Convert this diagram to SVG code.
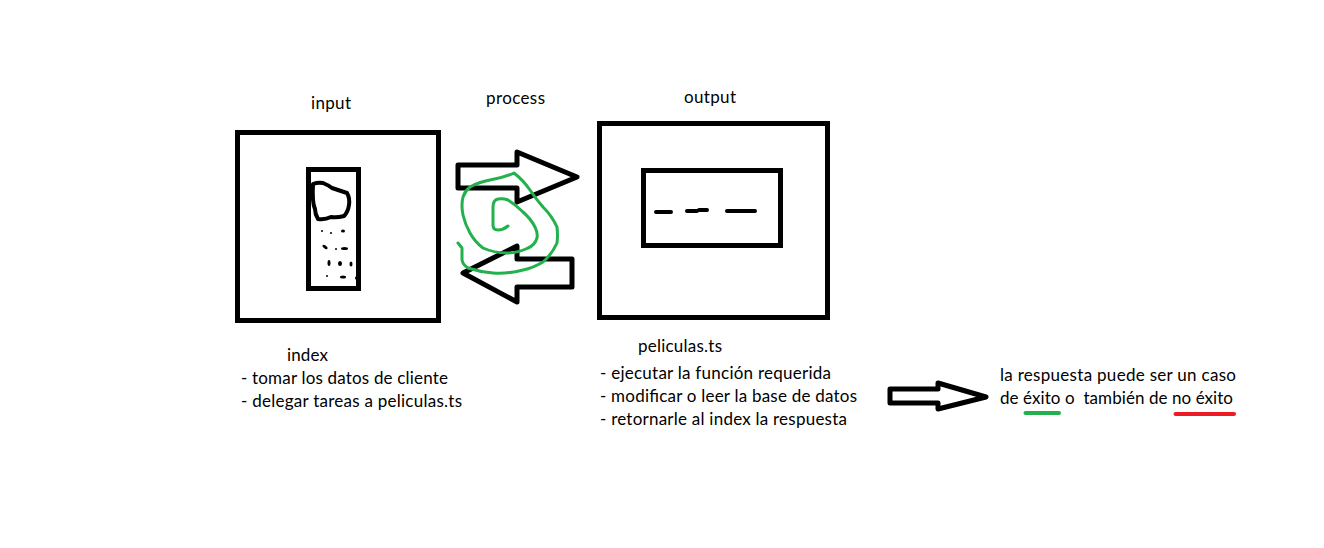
<svg xmlns="http://www.w3.org/2000/svg" width="1324" height="548" viewBox="0 0 1324 548">
<style>
text{font-family:"Lato","Open Sans","Liberation Sans",sans-serif;font-size:17px;fill:#000;white-space:pre}
.box{fill:none;stroke:#000;stroke-width:5}
.ink{fill:none;stroke:#000;stroke-width:4;stroke-linecap:round;stroke-linejoin:round}
.arrow{fill:none;stroke:#000;stroke-width:5;stroke-linejoin:round}
.green{fill:none;stroke:#22b14c;stroke-width:3;stroke-linecap:round;stroke-linejoin:round}
.dot{fill:#000}
</style>
<rect width="1324" height="548" fill="#fff"/>
<g id="input-node">
<rect class="box" x="237.500" y="132.500" width="201" height="188"/>
<rect class="box" x="308.500" y="169.500" width="50" height="119"/>
<path class="ink" d="M313 184Q318 182 323 183Q328 185 332 188L347 193Q350 198 349 205Q348 212 344 216Q337 218 331 217Q325 220 318 219Q315 214 315 209Q312 203 313 184Z"/>
<ellipse class="dot" cx="322" cy="231" rx="1" ry="1"/>
<ellipse class="dot" cx="331" cy="233" rx="1" ry="1"/>
<ellipse class="dot" cx="343" cy="231" rx="2" ry="1.500"/>
<ellipse class="dot" cx="325" cy="247" rx="3" ry="1.500" transform="rotate(35 325 247)"/>
<ellipse class="dot" cx="336" cy="249" rx="1" ry="1"/>
<ellipse class="dot" cx="344.500" cy="248.500" rx="3.500" ry="1.500"/>
<ellipse class="dot" cx="329" cy="263" rx="1.500" ry="3"/>
<ellipse class="dot" cx="340" cy="263.500" rx="2" ry="2.500"/>
<ellipse class="dot" cx="351" cy="264" rx="1.500" ry="2.500"/>
<ellipse class="dot" cx="327" cy="276" rx="1" ry="1"/>
<ellipse class="dot" cx="343" cy="277" rx="3" ry="1.500"/>
<ellipse class="dot" cx="356" cy="278" rx="1" ry="1.500"/>
<text x="311" y="109" textLength="40">input</text>
<text x="287" y="361" textLength="41">index</text>
<text x="241" y="384" textLength="207">- tomar los datos de cliente</text>
<text x="241" y="407" textLength="221">- delegar tareas a peliculas.ts</text>
</g>
<g id="output-node">
<rect class="box" x="599.500" y="123.500" width="228" height="194"/>
<rect class="box" x="643.500" y="170.500" width="137" height="75"/>
<path class="ink" d="M656 212H671M687 211H697M699 210H707M727 211H755"/>
<text x="684" y="103" textLength="52">output</text>
<text x="638" y="352" textLength="84">peliculas.ts</text>
<text x="600" y="379" textLength="231">- ejecutar la función requerida</text>
<text x="600" y="402" textLength="257">- modificar o leer la base de datos</text>
<text x="600" y="425" textLength="247">- retornarle al index la respuesta</text>
</g>
<g id="process-node">
<text x="486" y="104" textLength="59">process</text>
</g>
<g id="note-node">
<text x="1000" y="381" textLength="236">la respuesta puede ser un caso</text>
<text x="1000" y="404" textLength="233">de éxito o  también de no éxito</text>
<path d="M1025.500 413H1059" fill="none" stroke="#22b14c" stroke-width="4" stroke-linecap="round"/>
<path d="M1175.500 414H1234" fill="none" stroke="#ed1c24" stroke-width="4" stroke-linecap="round"/>
</g>
<g id="connectors">
<path class="arrow" d="M458 165H517V152L577 177L517 202V188H458Z"/>
<path class="arrow" d="M463 273L517 246V259H572V287H517V302Z"/>
<path class="arrow" d="M890 389H938V383L986 397L938 409V403H890Z"/>
<path class="green" d="M508 226Q503 230 498 230Q493 230 493 225L493 207Q493 200 498 199Q503 198 508 200Q516 205 523 212Q531 219 535 227Q538 233 537 238Q535 245 528 248Q518 253 507 253Q494 253 483 248Q475 242 470 233Q465 224 463 215Q461 205 463 197Q465 191 470 187Q479 182 490 180Q503 178 514 173Q523 180 530 190Q536 199 543 207Q552 216 557 227Q558 236 557 243Q552 254 543 262Q533 268 523 270Q508 274 493 273Q480 272 468 268Q463 265 462 260Q462 254 462 248L458 243"/>
</g>
</svg>
